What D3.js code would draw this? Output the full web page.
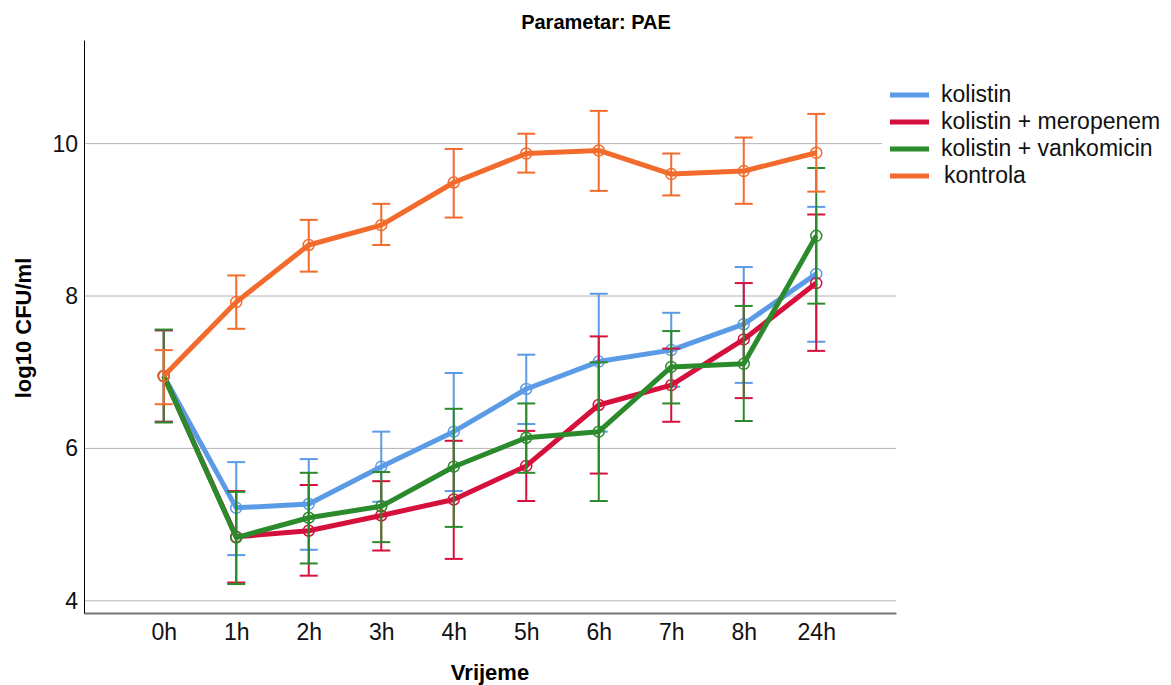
<!DOCTYPE html>
<html lang="hr">
<head>
<meta charset="UTF-8">
<title>Parametar: PAE</title>
<script src="https://d3js.org/d3.v7.min.js"></script>
<style>
  body { margin: 0; background: #fff; }
  text { font-family: "Liberation Sans", Arial, sans-serif; }
</style>
</head>
<body>
<svg id="chart" width="1171" height="685"></svg>
<script>
const width = 1171;
const height = 685;

// vremenske tocke
const times = ["0h", "1h", "2h", "3h", "4h", "5h", "6h", "7h", "8h", "24h"];
const seriesNames = ["kolistin", "kolistin + meropenem", "kolistin + vankomicin", "kontrola"];
const seriesColors = ["#5b9be6", "#d6103c", "#2b8a2b", "#f26b2c"];
const yTicks = [4, 6, 8, 10];

// srednje vrijednosti log10 CFU/ml
const kolistinMean = [6.95, 5.22, 5.27, 5.76, 6.22, 6.78, 7.14, 7.29, 7.63, 8.29];
const meropenemMean = [6.95, 4.84, 4.92, 5.12, 5.33, 5.77, 6.57, 6.83, 7.43, 8.17];
const vankomicinMean = [6.95, 4.83, 5.09, 5.24, 5.76, 6.14, 6.22, 7.07, 7.11, 8.79];
const kontrolaMean = [6.95, 7.92, 8.67, 8.93, 9.49, 9.87, 9.91, 9.60, 9.64, 9.88];

// granice error barova
const kolistinLow = [6.35, 4.60, 4.67, 5.30, 5.44, 6.32, 6.22, 6.81, 6.86, 7.40];
const kolistinHigh = [7.55, 5.82, 5.86, 6.22, 6.99, 7.23, 8.03, 7.78, 8.38, 9.17];
const meropenemLow = [6.35, 4.24, 4.33, 4.66, 4.55, 5.31, 5.67, 6.35, 6.66, 7.28];
const meropenemHigh = [7.55, 5.44, 5.52, 5.57, 6.10, 6.23, 7.47, 7.31, 8.17, 9.07];
const vankomicinLow = [6.34, 4.22, 4.49, 4.77, 4.97, 5.68, 5.31, 6.59, 6.36, 7.90];
const vankomicinHigh = [7.56, 5.43, 5.68, 5.69, 6.52, 6.59, 7.13, 7.54, 7.87, 9.68];
const kontrolaLow = [6.58, 7.57, 8.32, 8.67, 9.03, 9.62, 9.38, 9.32, 9.21, 9.37];
const kontrolaHigh = [7.29, 8.27, 9.00, 9.21, 9.93, 10.13, 10.43, 9.87, 10.08, 10.39];

const means = [kolistinMean, meropenemMean, vankomicinMean, kontrolaMean];
const lows = [kolistinLow, meropenemLow, vankomicinLow, kontrolaLow];
const highs = [kolistinHigh, meropenemHigh, vankomicinHigh, kontrolaHigh];

const series = seriesNames.map((name, s) => ({
  name: name,
  color: seriesColors[s],
  points: times.map((t, i) => ({ t: t, m: means[s][i], lo: lows[s][i], hi: highs[s][i] }))
}));

const plotLeft = 84, plotRight = 896, plotTop = 40, plotBottom = 613;

const svg = d3.select("#chart");

const x = d3.scalePoint().domain(times).range([plotLeft, plotRight]).padding(1.1);
const y = d3.scaleLinear().domain([3.84, 11.36]).range([plotBottom, plotTop]);

// mreza
svg.append("g")
  .selectAll("line")
  .data(yTicks)
  .enter()
  .append("line")
  .attr("x1", plotLeft)
  .attr("x2", plotRight)
  .attr("y1", d => y(d))
  .attr("y2", d => y(d))
  .attr("stroke", "#b4b4b4")
  .attr("stroke-width", 1);

// osi
const xAxis = svg.append("g")
  .attr("transform", `translate(0,${plotBottom})`)
  .call(d3.axisBottom(x).tickSize(0).tickPadding(11));
xAxis.select(".domain").attr("stroke", "#777").attr("stroke-width", 2);
xAxis.selectAll("text").attr("font-size", "23px").attr("fill", "#111");

const yAxis = svg.append("g")
  .attr("transform", `translate(${plotLeft},0)`)
  .call(d3.axisLeft(y).tickValues(yTicks).tickSize(0).tickPadding(6));
yAxis.select(".domain").attr("stroke", "#000").attr("stroke-width", 1);
yAxis.selectAll("text").attr("font-size", "23px").attr("fill", "#111");

const line = d3.line().x(d => x(d.t)).y(d => y(d.m));

series.forEach(sr => {
  const g = svg.append("g");

  // error barovi
  g.selectAll(".bar")
    .data(sr.points)
    .enter()
    .append("line")
    .attr("x1", d => x(d.t))
    .attr("x2", d => x(d.t))
    .attr("y1", d => y(d.lo))
    .attr("y2", d => y(d.hi))
    .attr("stroke", sr.color)
    .attr("stroke-width", 2);

  ["lo", "hi"].forEach(k => {
    g.selectAll(".cap-" + k)
      .data(sr.points)
      .enter()
      .append("line")
      .attr("x1", d => x(d.t) - 9)
      .attr("x2", d => x(d.t) + 9)
      .attr("y1", d => y(d[k]))
      .attr("y2", d => y(d[k]))
      .attr("stroke", sr.color)
      .attr("stroke-width", 2);
  });

  g.append("path")
    .datum(sr.points)
    .attr("d", line)
    .attr("fill", "none")
    .attr("stroke", sr.color)
    .attr("stroke-width", 5)
    .attr("stroke-linejoin", "round");

  g.selectAll("circle")
    .data(sr.points)
    .enter()
    .append("circle")
    .attr("cx", d => x(d.t))
    .attr("cy", d => y(d.m))
    .attr("r", 5.5)
    .attr("fill", "none")
    .attr("stroke", sr.color)
    .attr("stroke-width", 1.5);
});

// legenda
const legend = svg.append("g");
legend.append("rect")
  .attr("x", 882).attr("y", 72)
  .attr("width", 289).attr("height", 125)
  .attr("fill", "#fff");

const legendY = d3.scalePoint().domain(seriesNames).range([95, 176]);
seriesNames.forEach((name, s) => {
  const yy = legendY(name);
  legend.append("line")
    .attr("x1", 890).attr("x2", 929)
    .attr("y1", yy).attr("y2", yy)
    .attr("stroke", seriesColors[s])
    .attr("stroke-width", 5);
  legend.append("text")
    .attr("x", name === "kontrola" ? 944 : 941)
    .attr("y", yy + 7)
    .attr("font-size", "23px")
    .attr("fill", "#111")
    .text(name);
});

// naslovi
svg.append("text")
  .attr("x", 596).attr("y", 29)
  .attr("text-anchor", "middle")
  .attr("font-size", "20px")
  .attr("font-weight", "bold")
  .text("Parametar: PAE");

svg.append("text")
  .attr("transform", `translate(31,328) rotate(-90)`)
  .attr("text-anchor", "middle")
  .attr("font-size", "22px")
  .attr("font-weight", "bold")
  .text("log10 CFU/ml");

svg.append("text")
  .attr("x", 490).attr("y", 680)
  .attr("text-anchor", "middle")
  .attr("font-size", "22px")
  .attr("font-weight", "bold")
  .text("Vrijeme");
</script>
</body>
</html>
